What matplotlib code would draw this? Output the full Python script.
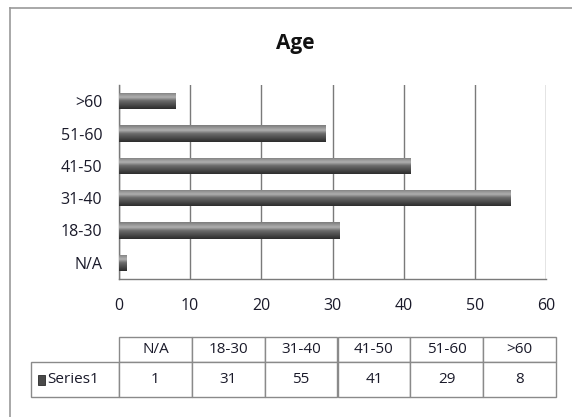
import matplotlib
matplotlib.use("Agg")
import matplotlib.pyplot as plt
import matplotlib.colors as mcolors
from matplotlib.patches import Rectangle
from matplotlib.lines import Line2D
import numpy as np

# data
categories = ["N/A", "18-30", "31-40", "41-50", "51-60", ">60"]
counts = [1, 31, 55, 41, 29, 8]
series_name = "Series1"
x_ticks = [0, 10, 20, 30, 40, 50, 60]

plt.rcParams['font.family'] = ['Open Sans', 'DejaVu Sans']

W, H = 572, 417
fig = plt.figure(figsize=(W / 100, H / 100), dpi=100)

# outer chart frame (top and left edges visible, rest cut off)
frame_col = "#9a9a9a"
fig.add_artist(Line2D([10 / W, 1.0], [1 - 8 / H, 1 - 8 / H], transform=fig.transFigure,
                      color=frame_col, lw=1.2))
fig.add_artist(Line2D([10 / W, 10 / W], [1 - 8 / H, 0.0], transform=fig.transFigure,
                      color=frame_col, lw=1.2))

fig.text(295 / W, 1 - 44 / H, "Age", ha="center", va="center",
         fontsize=15, fontweight="bold", color="#111111")

# plot area
ax = fig.add_axes([119 / W, 1 - 279 / H, (546 - 119) / W, (279 - 85) / H])
ypos = np.arange(len(categories))
bars = ax.barh(ypos, counts, height=0.5, color="#5a5a5a", zorder=2)

# cylinder-like shading on each bar
shade = mcolors.LinearSegmentedColormap.from_list(
    "shade", [(0.0, "#7c7c7c"), (0.3, "#b0b0b0"), (0.5, "#6c6c6c"), (1.0, "#2c2c2c")])
grad = np.linspace(0, 1, 64).reshape(-1, 1)
for b in bars:
    x0, y0 = b.get_x(), b.get_y()
    x1, y1 = x0 + b.get_width(), y0 + b.get_height()
    im = ax.imshow(grad, cmap=shade, extent=(x0, x1, y0, y1), origin="upper",
                   aspect="auto", zorder=3, interpolation="bilinear")
    im.set_clip_path(b)

ax.set_xlim(0, 60)
ax.set_ylim(-0.5, len(categories) - 0.5)
ax.set_xticks(x_ticks)
ax.set_yticks(ypos)
ax.set_yticklabels(categories)
ax.tick_params(length=0, labelsize=11.5, colors="#1a1a2a")
ax.tick_params(axis="y", pad=12)
ax.tick_params(axis="x", pad=14)
ax.xaxis.grid(True, color="#7a7a7a", lw=1.0, zorder=1)
ax.set_axisbelow(True)
for s in ["top", "right"]:
    ax.spines[s].set_visible(False)
for s in ["left", "bottom"]:
    ax.spines[s].set_color("#7a7a7a")
    ax.spines[s].set_linewidth(1.0)

# data table
tw = 556 - 31
tax = fig.add_axes([31 / W, 1 - 397 / H, tw / W, (397 - 337) / H])
tax.axis("off")
label_w = 88
col_w = (556 - 119) / len(categories)
widths = [label_w] + [col_w] * len(categories)
tot = sum(widths)
rows = [[""] + categories, [series_name] + [str(v) for v in counts]]
tbl = tax.table(cellText=rows, colWidths=[w / tot for w in widths],
                cellLoc="center", bbox=[0, 0, 1, 1])
tbl.auto_set_font_size(False)
hdr_h = 25 / 60
for (r, c), cell in tbl.get_celld().items():
    cell.set_edgecolor("#8a8a8a")
    cell.set_linewidth(1.0)
    cell.set_text_props(fontsize=11, color="#1a1a2a")
    if r == 0:
        cell.set_height(hdr_h)
        cell.set_y(1 - hdr_h)
    else:
        cell.set_height(1 - hdr_h)
        cell.set_y(0)
tbl[0, 0].visible_edges = "open"
tbl[1, 0].get_text().set_text("")
tax.text(16 / tw, (1 - hdr_h) / 2, series_name, ha="left", va="center",
         fontsize=11, color="#1a1a2a")
# legend key in the table
key_w = 7 / tw
key_h = 10 / 60
tax.add_patch(Rectangle((7 / tw, (1 - hdr_h) / 2 - key_h / 2), key_w, key_h,
                        facecolor="#4a4a4a", edgecolor="#2a2a2a", lw=0.6, zorder=5))

fig.savefig("out.png", dpi=100)
